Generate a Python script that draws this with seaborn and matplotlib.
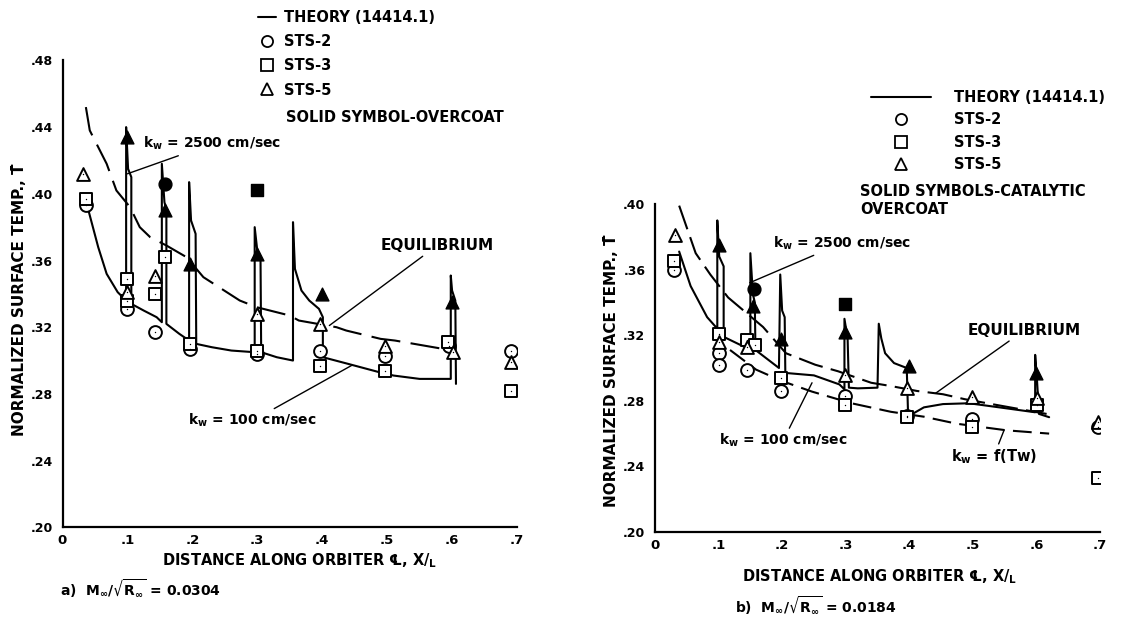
import matplotlib
matplotlib.use('Agg')
import matplotlib.pyplot as plt
import seaborn as sns
import pandas as pd
from matplotlib.lines import Line2D

# ---------------- data ----------------
# panel a) M/sqrt(R) = 0.0304
a_sts2_x = [0.036, 0.100, 0.142, 0.196, 0.299, 0.397, 0.496, 0.596, 0.690]
a_sts2_y = [0.393, 0.331, 0.317, 0.307, 0.304, 0.306, 0.303, 0.309, 0.306]
a_sts3_x = [0.036, 0.100, 0.100, 0.142, 0.158, 0.196, 0.299, 0.397, 0.496, 0.594, 0.690]
a_sts3_y = [0.397, 0.349, 0.336, 0.340, 0.362, 0.310, 0.306, 0.297, 0.294, 0.311, 0.282]
a_sts5_x = [0.032, 0.100, 0.142, 0.299, 0.397, 0.496, 0.601, 0.690]
a_sts5_y = [0.412, 0.341, 0.351, 0.328, 0.322, 0.309, 0.305, 0.299]
a_coat_circ_x = [0.158]
a_coat_circ_y = [0.406]
a_coat_sq_x = [0.299]
a_coat_sq_y = [0.402]
a_coat_tri_x = [0.100, 0.158, 0.196, 0.299, 0.400, 0.600]
a_coat_tri_y = [0.434, 0.390, 0.358, 0.364, 0.340, 0.335]

a_theory_x = [0.040, 0.055, 0.068, 0.085, 0.098, 0.098, 0.101, 0.106, 0.106, 0.125, 0.145, 0.153,
              0.153, 0.157, 0.160, 0.160, 0.180, 0.195, 0.195, 0.198, 0.205, 0.206, 0.230, 0.260,
              0.296, 0.296, 0.300, 0.305, 0.306, 0.330, 0.355, 0.355, 0.358, 0.368, 0.380, 0.395,
              0.401, 0.401, 0.440, 0.488, 0.510, 0.550, 0.598, 0.598, 0.600, 0.605, 0.606]
a_theory_y = [0.390, 0.368, 0.352, 0.341, 0.336, 0.440, 0.415, 0.410, 0.334, 0.330, 0.326, 0.323,
              0.418, 0.395, 0.390, 0.322, 0.316, 0.312, 0.407, 0.384, 0.376, 0.310, 0.308, 0.306,
              0.305, 0.380, 0.366, 0.360, 0.305, 0.302, 0.300, 0.383, 0.355, 0.342, 0.336, 0.331,
              0.326, 0.302, 0.298, 0.293, 0.291, 0.289, 0.289, 0.351, 0.342, 0.336, 0.286]
a_equil_x = [0.036, 0.042, 0.068, 0.083, 0.104, 0.119, 0.135, 0.160, 0.191, 0.217, 0.273, 0.299,
             0.350, 0.364, 0.422, 0.437, 0.490, 0.512, 0.586, 0.600]
a_equil_y = [0.452, 0.438, 0.418, 0.402, 0.392, 0.380, 0.374, 0.369, 0.362, 0.350, 0.336, 0.332,
             0.327, 0.324, 0.320, 0.318, 0.313, 0.312, 0.307, 0.306]

# panel b) M/sqrt(R) = 0.0184
b_sts2_x = [0.030, 0.100, 0.100, 0.144, 0.198, 0.299, 0.397, 0.498, 0.697]
b_sts2_y = [0.360, 0.309, 0.302, 0.299, 0.286, 0.283, 0.271, 0.269, 0.264]
b_sts3_x = [0.030, 0.100, 0.144, 0.158, 0.198, 0.299, 0.397, 0.498, 0.601, 0.697]
b_sts3_y = [0.365, 0.321, 0.317, 0.314, 0.294, 0.2775, 0.270, 0.264, 0.2775, 0.233]
b_sts5_x = [0.032, 0.100, 0.144, 0.299, 0.397, 0.498, 0.601, 0.697]
b_sts5_y = [0.381, 0.316, 0.313, 0.296, 0.2876, 0.2825, 0.2815, 0.267]
b_coat_circ_x = [0.156]
b_coat_circ_y = [0.348]
b_coat_sq_x = [0.299]
b_coat_sq_y = [0.339]
b_coat_tri_x = [0.100, 0.154, 0.198, 0.299, 0.400, 0.600]
b_coat_tri_y = [0.375, 0.338, 0.3175, 0.322, 0.301, 0.297]

b_theory_x = [0.038, 0.056, 0.082, 0.098, 0.098, 0.101, 0.108, 0.108, 0.140, 0.150, 0.150, 0.154,
              0.157, 0.158, 0.195, 0.197, 0.200, 0.204, 0.205, 0.250, 0.290, 0.298, 0.298, 0.303,
              0.305, 0.319, 0.350, 0.352, 0.356, 0.362, 0.376, 0.396, 0.398, 0.405, 0.423, 0.453,
              0.494, 0.551, 0.598, 0.598, 0.601, 0.604, 0.620]
b_theory_y = [0.371, 0.350, 0.331, 0.324, 0.390, 0.368, 0.362, 0.319, 0.313, 0.311, 0.370, 0.345,
              0.340, 0.311, 0.300, 0.357, 0.335, 0.331, 0.297, 0.2955, 0.290, 0.287, 0.330, 0.318,
              0.288, 0.2876, 0.288, 0.327, 0.318, 0.309, 0.303, 0.300, 0.273, 0.272, 0.276, 0.278,
              0.2785, 0.2755, 0.273, 0.308, 0.292, 0.272, 0.270]
b_equil_x = [0.038, 0.064, 0.087, 0.115, 0.170, 0.206, 0.252, 0.288, 0.340, 0.371, 0.412, 0.453,
             0.487, 0.544, 0.616]
b_equil_y = [0.399, 0.370, 0.357, 0.343, 0.325, 0.309, 0.302, 0.298, 0.291, 0.289, 0.286, 0.284,
             0.281, 0.277, 0.272]
b_ftw_x = [0.118, 0.159, 0.200, 0.247, 0.309, 0.371, 0.423, 0.475, 0.553, 0.620]
b_ftw_y = [0.311, 0.299, 0.292, 0.2856, 0.2785, 0.2733, 0.2703, 0.266, 0.262, 0.260]

x_ticks = [0, 0.1, 0.2, 0.3, 0.4, 0.5, 0.6, 0.7]
x_ticklabels = ['0', '.1', '.2', '.3', '.4', '.5', '.6', '.7']
a_y_ticks = [0.20, 0.24, 0.28, 0.32, 0.36, 0.40, 0.44, 0.48]
a_y_ticklabels = ['.20', '.24', '.28', '.32', '.36', '.40', '.44', '.48']
b_y_ticks = [0.20, 0.24, 0.28, 0.32, 0.36, 0.40]
b_y_ticklabels = ['.20', '.24', '.28', '.32', '.36', '.40']

# ---------------- style ----------------
sns.set_theme(style='white')
plt.rcParams['font.family'] = ['DejaVu Sans']
plt.rcParams['font.weight'] = 'bold'
plt.rcParams['mathtext.default'] = 'regular'
plt.rcParams['text.color'] = 'black'
plt.rcParams['xtick.color'] = 'black'
plt.rcParams['ytick.color'] = 'black'

W, H = 1124, 634
fig = plt.figure(figsize=(W / 100, H / 100), dpi=100)
axA = fig.add_axes([62.5 / W, 1 - 527.3 / H, 454.5 / W, 466.9 / H])
axB = fig.add_axes([655 / W, 1 - 532 / H, 445 / W, 328 / H])

FS = 9
LFS = 10.5
mk = dict(s=85, color='white', edgecolor='black', linewidth=1.4, zorder=4)
fk = dict(s=85, color='black', edgecolor='black', linewidth=1.0, zorder=5)


def curve(ax, xs, ys, ls, lw=1.5):
    df = pd.DataFrame({'x': xs, 'y': ys})
    sns.lineplot(data=df, x='x', y='y', sort=False, estimator=None, color='black',
                 linewidth=lw, linestyle=ls, ax=ax, zorder=2)


def open_pts(ax, xs, ys, marker):
    sns.scatterplot(x=xs, y=ys, marker=marker, ax=ax, **mk)
    # scanned symbols have a tiny dot in the centre
    sns.scatterplot(x=xs, y=ys, marker='.', s=4, color='black', linewidth=0, ax=ax, zorder=6)


# panel a
curve(axA, a_theory_x, a_theory_y, '-')
curve(axA, a_equil_x, a_equil_y, (0, (14, 5)))
open_pts(axA, a_sts2_x, a_sts2_y, 'o')
open_pts(axA, a_sts3_x, a_sts3_y, 's')
open_pts(axA, a_sts5_x, a_sts5_y, '^')
sns.scatterplot(x=a_coat_circ_x, y=a_coat_circ_y, marker='o', ax=axA, **fk)
sns.scatterplot(x=a_coat_sq_x, y=a_coat_sq_y, marker='s', ax=axA, **fk)
sns.scatterplot(x=a_coat_tri_x, y=a_coat_tri_y, marker='^', ax=axA, **fk)

# panel b
curve(axB, b_theory_x, b_theory_y, '-')
curve(axB, b_equil_x, b_equil_y, (0, (12, 4)))
curve(axB, b_ftw_x, b_ftw_y, (0, (9, 4)))
open_pts(axB, b_sts2_x, b_sts2_y, 'o')
open_pts(axB, b_sts3_x, b_sts3_y, 's')
open_pts(axB, b_sts5_x, b_sts5_y, '^')
sns.scatterplot(x=b_coat_circ_x, y=b_coat_circ_y, marker='o', ax=axB, **fk)
sns.scatterplot(x=b_coat_sq_x, y=b_coat_sq_y, marker='s', ax=axB, **fk)
sns.scatterplot(x=b_coat_tri_x, y=b_coat_tri_y, marker='^', ax=axB, **fk)

for ax, yt, ytl, ylim in [(axA, a_y_ticks, a_y_ticklabels, (0.20, 0.48)),
                          (axB, b_y_ticks, b_y_ticklabels, (0.20, 0.40))]:
    ax.set_xlim(0, 0.7)
    ax.set_ylim(*ylim)
    ax.set_xticks(x_ticks)
    ax.set_xticklabels(x_ticklabels, fontsize=FS + 0.5, fontweight='bold')
    ax.set_yticks(yt)
    ax.set_yticklabels(ytl, fontsize=FS, fontweight='bold')
    ax.set_xlabel('')
    ax.set_ylabel('')
    sns.despine(ax=ax)
    for sp in ('left', 'bottom'):
        ax.spines[sp].set_color('black')
        ax.spines[sp].set_linewidth(1.6)
    ax.tick_params(axis='x', direction='in', length=5, width=1.3, pad=5,
                   colors='black', labelcolor='black')
    ax.tick_params(axis='y', direction='out', length=5, width=1.3, pad=2,
                   colors='black', labelcolor='black')
    ax.patch.set_alpha(0)

# annotations
ann = dict(arrowprops=dict(arrowstyle='-', color='black', lw=1.0, shrinkA=0, shrinkB=0),
           fontweight='bold', va='center', color='black')
axA.annotate('k$_w$ = 2500 cm/sec', xy=(0.100, 0.412), xytext=(0.124, 0.430), ha='left',
             fontsize=10, **ann)
axA.annotate('EQUILIBRIUM', xy=(0.411, 0.321), xytext=(0.490, 0.369), ha='left',
             fontsize=11, **ann)
axA.annotate('k$_w$ = 100 cm/sec', xy=(0.445, 0.297), xytext=(0.392, 0.264), ha='right',
             fontsize=10, **ann)
axB.annotate('k$_w$ = 2500 cm/sec', xy=(0.149, 0.352), xytext=(0.185, 0.376), ha='left',
             fontsize=10, **ann)
axB.annotate('EQUILIBRIUM', xy=(0.441, 0.2845), xytext=(0.492, 0.323), ha='left',
             fontsize=11, **ann)
axB.annotate('k$_w$ = 100 cm/sec', xy=(0.247, 0.291), xytext=(0.303, 0.256), ha='right',
             fontsize=10, **ann)
axB.annotate('k$_w$ = f(Tw)', xy=(0.549, 0.262), xytext=(0.465, 0.246), ha='left',
             fontsize=10.5, **ann)


def ftext(px, py, s, size=FS, **kw):
    fig.text(px / W, 1 - py / H, s, fontsize=size, fontweight='bold', color='black', **kw)


# axis titles and captions
ftext(20, 300, 'NORMALIZED SURFACE TEMP., T\u0304', size=11, rotation=90, ha='center', va='center')
ftext(612, 371, 'NORMALIZED SURFACE TEMP., T\u0304', size=11, rotation=90, ha='center', va='center')
ftext(300, 561, 'DISTANCE ALONG ORBITER \u2104, X/$_L$', size=10.5, ha='center', va='center')
ftext(880, 577, 'DISTANCE ALONG ORBITER \u2104, X/$_L$', size=10.5, ha='center', va='center')
ftext(60, 589, r'a)  M$_\infty$/$\sqrt{R_\infty}$ = 0.0304', size=10, ha='left', va='center')
ftext(735, 606, r'b)  M$_\infty$/$\sqrt{R_\infty}$ = 0.0184', size=10, ha='left', va='center')


# legends
def legend_handles():
    return [
        Line2D([0], [0], color='black', lw=1.5),
        Line2D([], [], marker='o', ls='none', mfc='white', mec='black', mew=1.3, ms=8),
        Line2D([], [], marker='s', ls='none', mfc='white', mec='black', mew=1.3, ms=8),
        Line2D([], [], marker='^', ls='none', mfc='white', mec='black', mew=1.3, ms=8),
    ]


labels = ['THEORY (14414.1)', 'STS-2', 'STS-3', 'STS-5']
legA = fig.legend(legend_handles(), labels, loc='upper left', bbox_to_anchor=(258 / W, 1 - 10 / H),
                  frameon=False, handlelength=1.25, handletextpad=0.5, labelspacing=0.63,
                  prop=dict(size=LFS, weight='bold'), borderaxespad=0, borderpad=0,
                  labelcolor='black')
legB = fig.legend(legend_handles(), labels, loc='upper left', bbox_to_anchor=(871 / W, 1 - 90 / H),
                  frameon=False, handlelength=4.1, handletextpad=1.6, labelspacing=0.51,
                  prop=dict(size=LFS, weight='bold'), borderaxespad=0, borderpad=0,
                  labelcolor='black')
ftext(286, 117, 'SOLID SYMBOL-OVERCOAT', size=LFS, ha='left', va='center')
ftext(860, 192, 'SOLID SYMBOLS-CATALYTIC', size=LFS, ha='left', va='center')
ftext(860, 210, 'OVERCOAT', size=LFS, ha='left', va='center')

fig.savefig('out.png', dpi=100)
